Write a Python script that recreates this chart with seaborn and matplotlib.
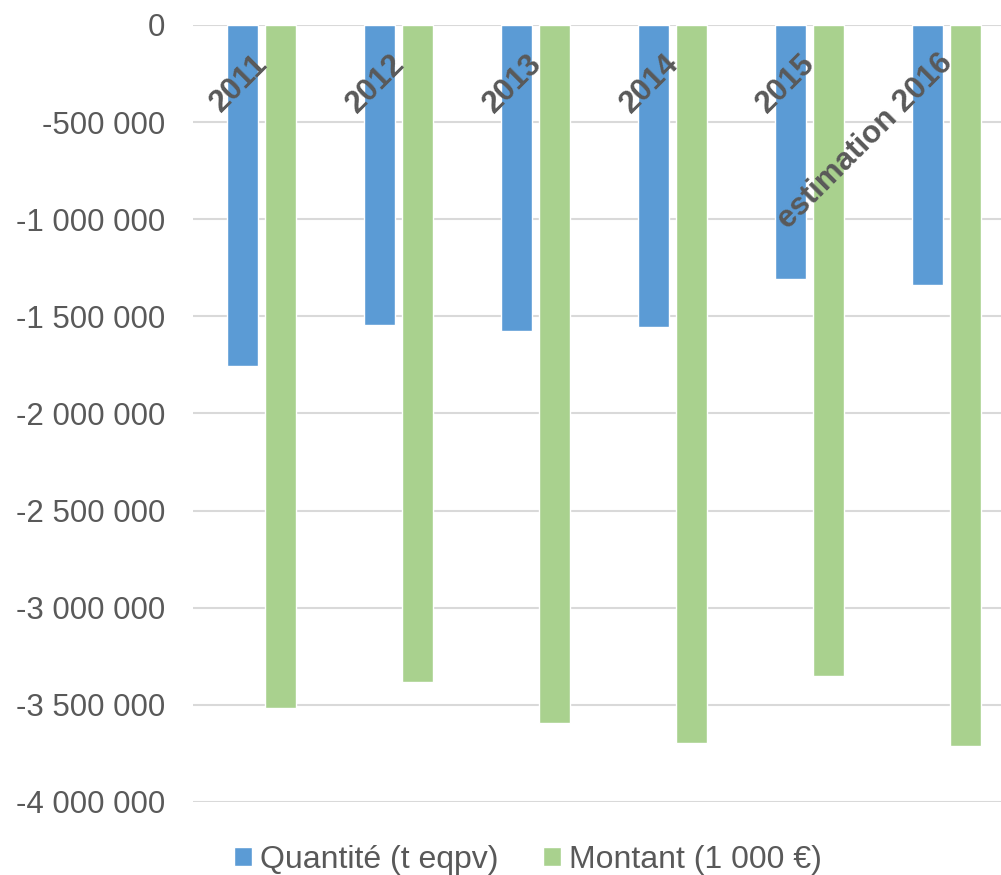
import pandas as pd
import seaborn as sns
import matplotlib.pyplot as plt

# Data
years = ['2011', '2012', '2013', '2014', '2015', 'estimation 2016']
quantite = [-1757000, -1546000, -1577000, -1557000, -1309000, -1340000]
montant = [-3515000, -3381000, -3593000, -3696000, -3351000, -3711000]
series = ['Quantité (t eqpv)', 'Montant (1 000 €)']
yticks = [0, -500000, -1000000, -1500000, -2000000, -2500000, -3000000, -3500000, -4000000]

df = pd.DataFrame({
    'year': years * 2,
    'value': quantite + montant,
    'serie': [series[0]] * len(years) + [series[1]] * len(years),
})

sns.set_style('white')
plt.rcParams['font.family'] = ['Liberation Sans', 'DejaVu Sans']
grey = '#595959'

fig = plt.figure(figsize=(10.01, 8.75), dpi=100)
ax = fig.add_axes([193 / 1001, 1 - 802 / 875, 822 / 1001, 777 / 875])

sns.barplot(data=df, x='year', y='value', hue='serie', ax=ax,
            palette=['#5B9BD5', '#A9D18E'], width=0.56, gap=0.19,
            saturation=1, errorbar=None, zorder=3)

ax.set_ylim(-4000000, 0)
ax.set_xlim(-0.5, 5.5)
ax.set_yticks(yticks)
ax.set_yticklabels(['0' if v == 0 else '{:,}'.format(v).replace(',', ' ') for v in yticks],
                   fontsize=22.5, color=grey)
ax.tick_params(axis='y', length=0, pad=20)
ax.yaxis.grid(True, color='#d9d9d9', linewidth=1.5, zorder=0)
ax.set_axisbelow(True)
ax.set_xticks([])
ax.set_xlabel('')
ax.set_ylabel('')
for s in ax.spines.values():
    s.set_visible(False)

# category labels, rotated, hanging below the zero line
for i, y in enumerate(years):
    ax.text(i + 0.01, -175000, y, rotation=45, rotation_mode='anchor',
            ha='right', va='center', fontsize=22.5, fontweight='bold',
            family='Liberation Sans', color=grey, zorder=5)

sns.move_legend(ax, 'center left', bbox_to_anchor=(0.234, 0.017),
                bbox_transform=fig.transFigure, ncol=2, frameon=False,
                title=None, fontsize=23, handlelength=0.55,
                handleheight=0.55, handletextpad=0.25, columnspacing=1.4,
                borderpad=0, borderaxespad=0)
for t in ax.get_legend().get_texts():
    t.set_color(grey)

fig.savefig('out.png', dpi=100)
